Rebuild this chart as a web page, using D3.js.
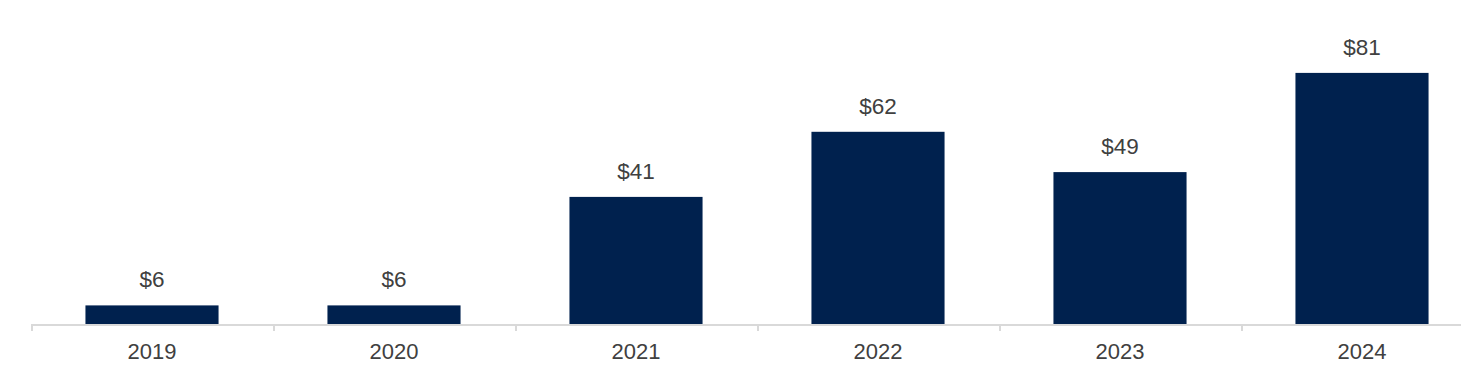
<!DOCTYPE html>
<html>
<head>
<meta charset="utf-8">
<script src="https://cdn.jsdelivr.net/npm/d3@7/dist/d3.min.js"></script>
<style>
  html, body { margin: 0; padding: 0; background: #ffffff; overflow: hidden; }
  svg { display: block; }
</style>
</head>
<body>
<svg id="chart" width="1461" height="381"></svg>
<script>
const categories = ["2019", "2020", "2021", "2022", "2023", "2024"];
const values = [6, 6, 41, 62, 49, 81];
const valueLabels = ["$6", "$6", "$41", "$62", "$49", "$81"];

const W = 1461, H = 381;
const svg = d3.select("#chart");

const x0 = 31, step = 242;
const x = d3.scaleBand()
  .domain(categories)
  .range([x0, x0 + step * categories.length])
  .paddingInner(0.45)
  .paddingOuter(0.225);

const baseY = 324;
const y = d3.scaleLinear().domain([0, 100]).range([baseY, baseY - 310]);

// bars
svg.append("g").selectAll("rect")
  .data(categories)
  .join("rect")
  .attr("x", d => x(d))
  .attr("width", x.bandwidth())
  .attr("y", (d, i) => y(values[i]))
  .attr("height", (d, i) => y(0) - y(values[i]))
  .attr("fill", "#00214e");

// axis line
svg.append("line")
  .attr("x1", x0).attr("x2", x0 + step * categories.length)
  .attr("y1", baseY + 1).attr("y2", baseY + 1)
  .attr("stroke", "#d9d9d9").attr("stroke-width", 2);

// tick marks at band boundaries
const bounds = d3.range(categories.length + 1).map(i => x0 + i * step);
svg.append("g").selectAll("line")
  .data(bounds)
  .join("line")
  .attr("x1", d => d + 1).attr("x2", d => d + 1)
  .attr("y1", baseY).attr("y2", baseY + 7)
  .attr("stroke", "#d9d9d9").attr("stroke-width", 2);

// category labels
svg.append("g").selectAll("text")
  .data(categories)
  .join("text")
  .attr("x", d => x(d) + x.bandwidth() / 2)
  .attr("y", 359)
  .attr("text-anchor", "middle")
  .attr("font-family", "Liberation Sans, Arial, sans-serif")
  .attr("font-size", 22)
  .attr("fill", "#404040")
  .text(d => d);

// value labels
svg.append("g").selectAll("text")
  .data(categories)
  .join("text")
  .attr("x", d => x(d) + x.bandwidth() / 2)
  .attr("y", (d, i) => y(values[i]) - 18)
  .attr("text-anchor", "middle")
  .attr("font-family", "Liberation Sans, Arial, sans-serif")
  .attr("font-size", 22.5)
  .attr("fill", "#404040")
  .text((d, i) => valueLabels[i]);
</script>
</body>
</html>
